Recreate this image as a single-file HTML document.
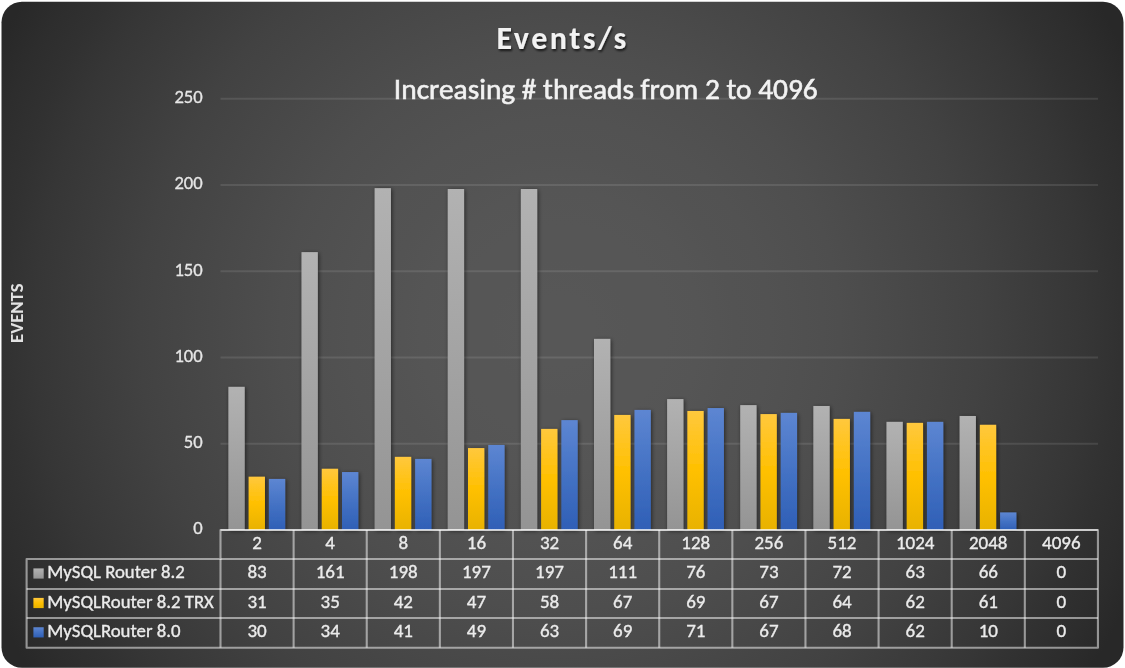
<!DOCTYPE html>
<html><head><meta charset="utf-8"><style>html,body{margin:0;padding:0;background:#fff;}svg{display:block;will-change:transform;}text{font-family:Carlito, "Liberation Sans", sans-serif;}</style></head><body>
<svg width="1125" height="668" viewBox="0 0 1125 668">
<defs><radialGradient id="bg" gradientUnits="userSpaceOnUse" cx="560" cy="330" r="700"><stop offset="0.00" stop-color="#575757"></stop><stop offset="0.05" stop-color="#575757"></stop><stop offset="0.10" stop-color="#565656"></stop><stop offset="0.15" stop-color="#565656"></stop><stop offset="0.20" stop-color="#555555"></stop><stop offset="0.25" stop-color="#535353"></stop><stop offset="0.30" stop-color="#525252"></stop><stop offset="0.35" stop-color="#505050"></stop><stop offset="0.40" stop-color="#4e4e4e"></stop><stop offset="0.45" stop-color="#4b4b4b"></stop><stop offset="0.50" stop-color="#484848"></stop><stop offset="0.55" stop-color="#454545"></stop><stop offset="0.60" stop-color="#424242"></stop><stop offset="0.65" stop-color="#3e3e3e"></stop><stop offset="0.70" stop-color="#3a3a3a"></stop><stop offset="0.75" stop-color="#363636"></stop><stop offset="0.80" stop-color="#313131"></stop><stop offset="0.85" stop-color="#2d2d2d"></stop><stop offset="0.90" stop-color="#282828"></stop><stop offset="0.95" stop-color="#282828"></stop><stop offset="1.00" stop-color="#282828"></stop></radialGradient>
<linearGradient id="g1" x1="0" y1="0" x2="0" y2="1"><stop offset="0" stop-color="#b2b2b2"></stop><stop offset="1" stop-color="#949494"></stop></linearGradient>
<linearGradient id="g2" x1="0" y1="0" x2="0" y2="1"><stop offset="0" stop-color="#ffc83d"></stop><stop offset="0.5" stop-color="#ffc000"></stop><stop offset="1" stop-color="#e8b200"></stop></linearGradient>
<linearGradient id="g3" x1="0" y1="0" x2="0" y2="1"><stop offset="0" stop-color="#5d86d2"></stop><stop offset="0.5" stop-color="#4472c4"></stop><stop offset="1" stop-color="#2f5fb6"></stop></linearGradient>
<filter id="sh" x="-50%" y="-10%" width="200%" height="120%"><feGaussianBlur in="SourceAlpha" stdDeviation="2"></feGaussianBlur><feOffset dx="0.9" dy="0.9" result="b"></feOffset><feComponentTransfer><feFuncA type="linear" slope="0.55"></feFuncA></feComponentTransfer><feMerge><feMergeNode></feMergeNode><feMergeNode in="SourceGraphic"></feMergeNode></feMerge></filter>
<filter id="tsh" x="-10%" y="-20%" width="120%" height="140%"><feGaussianBlur in="SourceAlpha" stdDeviation="1"></feGaussianBlur><feOffset dx="1" dy="1.5"></feOffset><feComponentTransfer><feFuncA type="linear" slope="0.7"></feFuncA></feComponentTransfer><feMerge><feMergeNode></feMergeNode><feMergeNode in="SourceGraphic"></feMergeNode></feMerge></filter>
</defs>
<rect x="1.5" y="1.8" width="1122" height="666" rx="20.5" ry="20.5" fill="url(#bg)"></rect>
<text x="562.6" y="49.2" text-anchor="middle" font-size="32" font-weight="700" letter-spacing="2.5" fill="#f2f2f2" filter="url(#tsh)" textLength="132.13" lengthAdjust="spacingAndGlyphs">Events/s</text>
<text x="605.8" y="99.1" stroke="#f2f2f2" stroke-width="0.6" text-anchor="middle" font-size="29.4" fill="#f2f2f2" textLength="423.91" lengthAdjust="spacingAndGlyphs">Increasing # threads from 2 to 4096</text>
<line x1="220.5" y1="98.80" x2="1098" y2="98.80" stroke="#ffffff" stroke-opacity="0.1" stroke-width="2"></line>
<line x1="220.5" y1="185.04" x2="1098" y2="185.04" stroke="#ffffff" stroke-opacity="0.1" stroke-width="2"></line>
<line x1="220.5" y1="271.28" x2="1098" y2="271.28" stroke="#ffffff" stroke-opacity="0.1" stroke-width="2"></line>
<line x1="220.5" y1="357.52" x2="1098" y2="357.52" stroke="#ffffff" stroke-opacity="0.1" stroke-width="2"></line>
<line x1="220.5" y1="443.76" x2="1098" y2="443.76" stroke="#ffffff" stroke-opacity="0.1" stroke-width="2"></line>
<text x="202.7" y="103.10" text-anchor="end" font-size="18.6" fill="#e6e6e6" stroke="#e6e6e6" stroke-width="0.3" textLength="28.28" lengthAdjust="spacingAndGlyphs">250</text>
<text x="202.7" y="189.34" text-anchor="end" font-size="18.6" fill="#e6e6e6" stroke="#e6e6e6" stroke-width="0.3" textLength="28.28" lengthAdjust="spacingAndGlyphs">200</text>
<text x="202.7" y="275.58" text-anchor="end" font-size="18.6" fill="#e6e6e6" stroke="#e6e6e6" stroke-width="0.3" textLength="28.28" lengthAdjust="spacingAndGlyphs">150</text>
<text x="202.7" y="361.82" text-anchor="end" font-size="18.6" fill="#e6e6e6" stroke="#e6e6e6" stroke-width="0.3" textLength="28.28" lengthAdjust="spacingAndGlyphs">100</text>
<text x="202.7" y="448.06" text-anchor="end" font-size="18.6" fill="#e6e6e6" stroke="#e6e6e6" stroke-width="0.3" textLength="18.86" lengthAdjust="spacingAndGlyphs">50</text>
<text x="202.7" y="534.30" text-anchor="end" font-size="18.6" fill="#e6e6e6" stroke="#e6e6e6" stroke-width="0.3" textLength="9.44" lengthAdjust="spacingAndGlyphs">0</text>
<text transform="translate(22.7 313.2) rotate(-90)" x="0" y="0" text-anchor="middle" font-size="18.7" font-weight="700" fill="#e2e2e2" textLength="59.59" lengthAdjust="spacingAndGlyphs">EVENTS</text>
<rect x="228.40" y="386.84" width="16.3" height="143.16" fill="url(#g1)" filter="url(#sh)"></rect>
<rect x="248.65" y="476.70" width="16.3" height="53.30" fill="url(#g2)" filter="url(#sh)"></rect>
<rect x="268.90" y="478.95" width="16.3" height="51.05" fill="url(#g3)" filter="url(#sh)"></rect>
<rect x="301.52" y="252.13" width="16.3" height="277.87" fill="url(#g1)" filter="url(#sh)"></rect>
<rect x="321.77" y="468.77" width="16.3" height="61.23" fill="url(#g2)" filter="url(#sh)"></rect>
<rect x="342.02" y="472.05" width="16.3" height="57.95" fill="url(#g3)" filter="url(#sh)"></rect>
<rect x="374.64" y="188.14" width="16.3" height="341.86" fill="url(#g1)" filter="url(#sh)"></rect>
<rect x="394.89" y="456.87" width="16.3" height="73.13" fill="url(#g2)" filter="url(#sh)"></rect>
<rect x="415.14" y="458.94" width="16.3" height="71.06" fill="url(#g3)" filter="url(#sh)"></rect>
<rect x="447.76" y="189.01" width="16.3" height="340.99" fill="url(#g1)" filter="url(#sh)"></rect>
<rect x="468.01" y="448.07" width="16.3" height="81.93" fill="url(#g2)" filter="url(#sh)"></rect>
<rect x="488.26" y="444.97" width="16.3" height="85.03" fill="url(#g3)" filter="url(#sh)"></rect>
<rect x="520.88" y="189.01" width="16.3" height="340.99" fill="url(#g1)" filter="url(#sh)"></rect>
<rect x="541.13" y="428.93" width="16.3" height="101.07" fill="url(#g2)" filter="url(#sh)"></rect>
<rect x="561.38" y="420.13" width="16.3" height="109.87" fill="url(#g3)" filter="url(#sh)"></rect>
<rect x="594.00" y="338.89" width="16.3" height="191.11" fill="url(#g1)" filter="url(#sh)"></rect>
<rect x="614.25" y="414.96" width="16.3" height="115.04" fill="url(#g2)" filter="url(#sh)"></rect>
<rect x="634.50" y="409.95" width="16.3" height="120.05" fill="url(#g3)" filter="url(#sh)"></rect>
<rect x="667.12" y="399.09" width="16.3" height="130.91" fill="url(#g1)" filter="url(#sh)"></rect>
<rect x="687.37" y="410.99" width="16.3" height="119.01" fill="url(#g2)" filter="url(#sh)"></rect>
<rect x="707.62" y="408.06" width="16.3" height="121.94" fill="url(#g3)" filter="url(#sh)"></rect>
<rect x="740.24" y="405.12" width="16.3" height="124.88" fill="url(#g1)" filter="url(#sh)"></rect>
<rect x="760.49" y="414.09" width="16.3" height="115.91" fill="url(#g2)" filter="url(#sh)"></rect>
<rect x="780.74" y="412.89" width="16.3" height="117.11" fill="url(#g3)" filter="url(#sh)"></rect>
<rect x="813.36" y="405.99" width="16.3" height="124.01" fill="url(#g1)" filter="url(#sh)"></rect>
<rect x="833.61" y="418.92" width="16.3" height="111.08" fill="url(#g2)" filter="url(#sh)"></rect>
<rect x="853.86" y="411.85" width="16.3" height="118.15" fill="url(#g3)" filter="url(#sh)"></rect>
<rect x="886.48" y="421.86" width="16.3" height="108.14" fill="url(#g1)" filter="url(#sh)"></rect>
<rect x="906.73" y="422.89" width="16.3" height="107.11" fill="url(#g2)" filter="url(#sh)"></rect>
<rect x="926.98" y="421.86" width="16.3" height="108.14" fill="url(#g3)" filter="url(#sh)"></rect>
<rect x="959.60" y="415.99" width="16.3" height="114.01" fill="url(#g1)" filter="url(#sh)"></rect>
<rect x="979.85" y="424.79" width="16.3" height="105.21" fill="url(#g2)" filter="url(#sh)"></rect>
<rect x="1000.10" y="512.41" width="16.3" height="17.59" fill="url(#g3)" filter="url(#sh)"></rect>
<path d="M26.6 647.7 V559 H220.5 V530 H1097.94 V647.7 Z" fill="none" stroke="#ffffff" stroke-opacity="0.5" stroke-width="2.1" stroke-linejoin="round"></path>
<line x1="220.5" y1="530" x2="1097.94" y2="530" stroke="#ffffff" stroke-opacity="0.5" stroke-width="2.1"></line>
<line x1="220.5" y1="559" x2="1097.94" y2="559" stroke="#ffffff" stroke-opacity="0.5" stroke-width="2.1"></line>
<line x1="26.6" y1="589" x2="1097.94" y2="589" stroke="#ffffff" stroke-opacity="0.5" stroke-width="2.1"></line>
<line x1="26.6" y1="618" x2="1097.94" y2="618" stroke="#ffffff" stroke-opacity="0.5" stroke-width="2.1"></line>
<line x1="220.5" y1="559" x2="220.5" y2="647.7" stroke="#ffffff" stroke-opacity="0.5" stroke-width="2.1"></line>
<line x1="293.62" y1="530" x2="293.62" y2="647.7" stroke="#ffffff" stroke-opacity="0.5" stroke-width="2.1"></line>
<line x1="366.74" y1="530" x2="366.74" y2="647.7" stroke="#ffffff" stroke-opacity="0.5" stroke-width="2.1"></line>
<line x1="439.86" y1="530" x2="439.86" y2="647.7" stroke="#ffffff" stroke-opacity="0.5" stroke-width="2.1"></line>
<line x1="512.98" y1="530" x2="512.98" y2="647.7" stroke="#ffffff" stroke-opacity="0.5" stroke-width="2.1"></line>
<line x1="586.10" y1="530" x2="586.10" y2="647.7" stroke="#ffffff" stroke-opacity="0.5" stroke-width="2.1"></line>
<line x1="659.22" y1="530" x2="659.22" y2="647.7" stroke="#ffffff" stroke-opacity="0.5" stroke-width="2.1"></line>
<line x1="732.34" y1="530" x2="732.34" y2="647.7" stroke="#ffffff" stroke-opacity="0.5" stroke-width="2.1"></line>
<line x1="805.46" y1="530" x2="805.46" y2="647.7" stroke="#ffffff" stroke-opacity="0.5" stroke-width="2.1"></line>
<line x1="878.58" y1="530" x2="878.58" y2="647.7" stroke="#ffffff" stroke-opacity="0.5" stroke-width="2.1"></line>
<line x1="951.70" y1="530" x2="951.70" y2="647.7" stroke="#ffffff" stroke-opacity="0.5" stroke-width="2.1"></line>
<line x1="1024.82" y1="530" x2="1024.82" y2="647.7" stroke="#ffffff" stroke-opacity="0.5" stroke-width="2.1"></line>
<text x="257.06" y="549.2" text-anchor="middle" font-size="19" fill="#ebebeb" stroke="#ebebeb" stroke-width="0.35" textLength="9.64" lengthAdjust="spacingAndGlyphs">2</text>
<text x="330.18" y="549.2" text-anchor="middle" font-size="19" fill="#ebebeb" stroke="#ebebeb" stroke-width="0.35" textLength="9.64" lengthAdjust="spacingAndGlyphs">4</text>
<text x="403.30" y="549.2" text-anchor="middle" font-size="19" fill="#ebebeb" stroke="#ebebeb" stroke-width="0.35" textLength="9.64" lengthAdjust="spacingAndGlyphs">8</text>
<text x="476.42" y="549.2" text-anchor="middle" font-size="19" fill="#ebebeb" stroke="#ebebeb" stroke-width="0.35" textLength="19.27" lengthAdjust="spacingAndGlyphs">16</text>
<text x="549.54" y="549.2" text-anchor="middle" font-size="19" fill="#ebebeb" stroke="#ebebeb" stroke-width="0.35" textLength="19.27" lengthAdjust="spacingAndGlyphs">32</text>
<text x="622.66" y="549.2" text-anchor="middle" font-size="19" fill="#ebebeb" stroke="#ebebeb" stroke-width="0.35" textLength="19.27" lengthAdjust="spacingAndGlyphs">64</text>
<text x="695.78" y="549.2" text-anchor="middle" font-size="19" fill="#ebebeb" stroke="#ebebeb" stroke-width="0.35" textLength="28.89" lengthAdjust="spacingAndGlyphs">128</text>
<text x="768.90" y="549.2" text-anchor="middle" font-size="19" fill="#ebebeb" stroke="#ebebeb" stroke-width="0.35" textLength="28.89" lengthAdjust="spacingAndGlyphs">256</text>
<text x="842.02" y="549.2" text-anchor="middle" font-size="19" fill="#ebebeb" stroke="#ebebeb" stroke-width="0.35" textLength="28.89" lengthAdjust="spacingAndGlyphs">512</text>
<text x="915.14" y="549.2" text-anchor="middle" font-size="19" fill="#ebebeb" stroke="#ebebeb" stroke-width="0.35" textLength="38.53" lengthAdjust="spacingAndGlyphs">1024</text>
<text x="988.26" y="549.2" text-anchor="middle" font-size="19" fill="#ebebeb" stroke="#ebebeb" stroke-width="0.35" textLength="38.53" lengthAdjust="spacingAndGlyphs">2048</text>
<text x="1061.38" y="549.2" text-anchor="middle" font-size="19" fill="#ebebeb" stroke="#ebebeb" stroke-width="0.35" textLength="38.53" lengthAdjust="spacingAndGlyphs">4096</text>
<rect x="33.4" y="568.40" width="10.3" height="10.2" fill="url(#g1)"></rect>
<text x="47.2" y="578.00" font-size="18.8" fill="#ebebeb" stroke="#ebebeb" stroke-width="0.35" textLength="137.56" lengthAdjust="spacingAndGlyphs">MySQL Router 8.2</text>
<text x="257.06" y="578.00" text-anchor="middle" font-size="19" fill="#ebebeb" stroke="#ebebeb" stroke-width="0.35" textLength="19.27" lengthAdjust="spacingAndGlyphs">83</text>
<text x="330.18" y="578.00" text-anchor="middle" font-size="19" fill="#ebebeb" stroke="#ebebeb" stroke-width="0.35" textLength="28.89" lengthAdjust="spacingAndGlyphs">161</text>
<text x="403.30" y="578.00" text-anchor="middle" font-size="19" fill="#ebebeb" stroke="#ebebeb" stroke-width="0.35" textLength="28.89" lengthAdjust="spacingAndGlyphs">198</text>
<text x="476.42" y="578.00" text-anchor="middle" font-size="19" fill="#ebebeb" stroke="#ebebeb" stroke-width="0.35" textLength="28.89" lengthAdjust="spacingAndGlyphs">197</text>
<text x="549.54" y="578.00" text-anchor="middle" font-size="19" fill="#ebebeb" stroke="#ebebeb" stroke-width="0.35" textLength="28.89" lengthAdjust="spacingAndGlyphs">197</text>
<text x="622.66" y="578.00" text-anchor="middle" font-size="19" fill="#ebebeb" stroke="#ebebeb" stroke-width="0.35" textLength="28.89" lengthAdjust="spacingAndGlyphs">111</text>
<text x="695.78" y="578.00" text-anchor="middle" font-size="19" fill="#ebebeb" stroke="#ebebeb" stroke-width="0.35" textLength="19.27" lengthAdjust="spacingAndGlyphs">76</text>
<text x="768.90" y="578.00" text-anchor="middle" font-size="19" fill="#ebebeb" stroke="#ebebeb" stroke-width="0.35" textLength="19.27" lengthAdjust="spacingAndGlyphs">73</text>
<text x="842.02" y="578.00" text-anchor="middle" font-size="19" fill="#ebebeb" stroke="#ebebeb" stroke-width="0.35" textLength="19.27" lengthAdjust="spacingAndGlyphs">72</text>
<text x="915.14" y="578.00" text-anchor="middle" font-size="19" fill="#ebebeb" stroke="#ebebeb" stroke-width="0.35" textLength="19.27" lengthAdjust="spacingAndGlyphs">63</text>
<text x="988.26" y="578.00" text-anchor="middle" font-size="19" fill="#ebebeb" stroke="#ebebeb" stroke-width="0.35" textLength="19.27" lengthAdjust="spacingAndGlyphs">66</text>
<text x="1061.38" y="578.00" text-anchor="middle" font-size="19" fill="#ebebeb" stroke="#ebebeb" stroke-width="0.35" textLength="9.64" lengthAdjust="spacingAndGlyphs">0</text>
<rect x="33.4" y="597.90" width="10.3" height="10.2" fill="url(#g2)"></rect>
<text x="47.2" y="607.50" font-size="18.8" fill="#ebebeb" stroke="#ebebeb" stroke-width="0.35" textLength="166.66" lengthAdjust="spacingAndGlyphs">MySQLRouter 8.2 TRX</text>
<text x="257.06" y="607.50" text-anchor="middle" font-size="19" fill="#ebebeb" stroke="#ebebeb" stroke-width="0.35" textLength="19.27" lengthAdjust="spacingAndGlyphs">31</text>
<text x="330.18" y="607.50" text-anchor="middle" font-size="19" fill="#ebebeb" stroke="#ebebeb" stroke-width="0.35" textLength="19.27" lengthAdjust="spacingAndGlyphs">35</text>
<text x="403.30" y="607.50" text-anchor="middle" font-size="19" fill="#ebebeb" stroke="#ebebeb" stroke-width="0.35" textLength="19.27" lengthAdjust="spacingAndGlyphs">42</text>
<text x="476.42" y="607.50" text-anchor="middle" font-size="19" fill="#ebebeb" stroke="#ebebeb" stroke-width="0.35" textLength="19.27" lengthAdjust="spacingAndGlyphs">47</text>
<text x="549.54" y="607.50" text-anchor="middle" font-size="19" fill="#ebebeb" stroke="#ebebeb" stroke-width="0.35" textLength="19.27" lengthAdjust="spacingAndGlyphs">58</text>
<text x="622.66" y="607.50" text-anchor="middle" font-size="19" fill="#ebebeb" stroke="#ebebeb" stroke-width="0.35" textLength="19.27" lengthAdjust="spacingAndGlyphs">67</text>
<text x="695.78" y="607.50" text-anchor="middle" font-size="19" fill="#ebebeb" stroke="#ebebeb" stroke-width="0.35" textLength="19.27" lengthAdjust="spacingAndGlyphs">69</text>
<text x="768.90" y="607.50" text-anchor="middle" font-size="19" fill="#ebebeb" stroke="#ebebeb" stroke-width="0.35" textLength="19.27" lengthAdjust="spacingAndGlyphs">67</text>
<text x="842.02" y="607.50" text-anchor="middle" font-size="19" fill="#ebebeb" stroke="#ebebeb" stroke-width="0.35" textLength="19.27" lengthAdjust="spacingAndGlyphs">64</text>
<text x="915.14" y="607.50" text-anchor="middle" font-size="19" fill="#ebebeb" stroke="#ebebeb" stroke-width="0.35" textLength="19.27" lengthAdjust="spacingAndGlyphs">62</text>
<text x="988.26" y="607.50" text-anchor="middle" font-size="19" fill="#ebebeb" stroke="#ebebeb" stroke-width="0.35" textLength="19.27" lengthAdjust="spacingAndGlyphs">61</text>
<text x="1061.38" y="607.50" text-anchor="middle" font-size="19" fill="#ebebeb" stroke="#ebebeb" stroke-width="0.35" textLength="9.64" lengthAdjust="spacingAndGlyphs">0</text>
<rect x="33.4" y="627.25" width="10.3" height="10.2" fill="url(#g3)"></rect>
<text x="47.2" y="636.85" font-size="18.8" fill="#ebebeb" stroke="#ebebeb" stroke-width="0.35" textLength="133.31" lengthAdjust="spacingAndGlyphs">MySQLRouter 8.0</text>
<text x="257.06" y="636.85" text-anchor="middle" font-size="19" fill="#ebebeb" stroke="#ebebeb" stroke-width="0.35" textLength="19.27" lengthAdjust="spacingAndGlyphs">30</text>
<text x="330.18" y="636.85" text-anchor="middle" font-size="19" fill="#ebebeb" stroke="#ebebeb" stroke-width="0.35" textLength="19.27" lengthAdjust="spacingAndGlyphs">34</text>
<text x="403.30" y="636.85" text-anchor="middle" font-size="19" fill="#ebebeb" stroke="#ebebeb" stroke-width="0.35" textLength="19.27" lengthAdjust="spacingAndGlyphs">41</text>
<text x="476.42" y="636.85" text-anchor="middle" font-size="19" fill="#ebebeb" stroke="#ebebeb" stroke-width="0.35" textLength="19.27" lengthAdjust="spacingAndGlyphs">49</text>
<text x="549.54" y="636.85" text-anchor="middle" font-size="19" fill="#ebebeb" stroke="#ebebeb" stroke-width="0.35" textLength="19.27" lengthAdjust="spacingAndGlyphs">63</text>
<text x="622.66" y="636.85" text-anchor="middle" font-size="19" fill="#ebebeb" stroke="#ebebeb" stroke-width="0.35" textLength="19.27" lengthAdjust="spacingAndGlyphs">69</text>
<text x="695.78" y="636.85" text-anchor="middle" font-size="19" fill="#ebebeb" stroke="#ebebeb" stroke-width="0.35" textLength="19.27" lengthAdjust="spacingAndGlyphs">71</text>
<text x="768.90" y="636.85" text-anchor="middle" font-size="19" fill="#ebebeb" stroke="#ebebeb" stroke-width="0.35" textLength="19.27" lengthAdjust="spacingAndGlyphs">67</text>
<text x="842.02" y="636.85" text-anchor="middle" font-size="19" fill="#ebebeb" stroke="#ebebeb" stroke-width="0.35" textLength="19.27" lengthAdjust="spacingAndGlyphs">68</text>
<text x="915.14" y="636.85" text-anchor="middle" font-size="19" fill="#ebebeb" stroke="#ebebeb" stroke-width="0.35" textLength="19.27" lengthAdjust="spacingAndGlyphs">62</text>
<text x="988.26" y="636.85" text-anchor="middle" font-size="19" fill="#ebebeb" stroke="#ebebeb" stroke-width="0.35" textLength="19.27" lengthAdjust="spacingAndGlyphs">10</text>
<text x="1061.38" y="636.85" text-anchor="middle" font-size="19" fill="#ebebeb" stroke="#ebebeb" stroke-width="0.35" textLength="9.64" lengthAdjust="spacingAndGlyphs">0</text>
</svg></body></html>
